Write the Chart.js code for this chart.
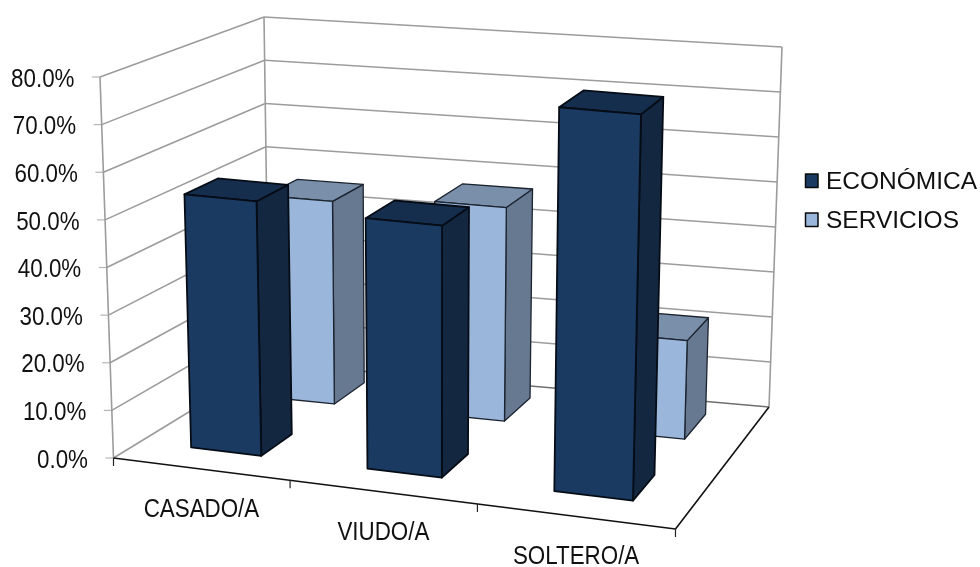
<!DOCTYPE html>
<html>
<head>
<meta charset="utf-8">
<title>Estado civil por rama</title>
<script src="https://cdn.jsdelivr.net/npm/chart.js@4/dist/chart.umd.min.js"></script>
<style>
  html, body { margin: 0; padding: 0; background: #fff; }
  canvas { display: block; }
</style>
</head>
<body>
<canvas id="estado-chart" width="980" height="567"></canvas>
<script>
// Chart data (percent)
const categories = ['CASADO/A', 'VIUDO/A', 'SOLTERO/A'];
const economica = [53.8, 52.5, 79.3];
const servicios = [45, 46.8, 21.3];

const seriesNames = ['ECONÓMICA', 'SERVICIOS'];

// Face colours per series: front, side, top
const faces = [
    { front: '#1a3a62', side: '#132741', top: '#162e4d', line: '#060c16' },
    { front: '#9ab7db', side: '#677891', top: '#7a8faa', line: '#1c2430' }
];

// Screen corners of the 3D box, named by [u, v, w] = [across, depth, height]
const box = {
    c000: [113.5, 458], c100: [675.5, 529], c010: [269, 363], c110: [769, 407],
    c001: [100, 77],    c101: [685.5, 131], c011: [264, 17],  c111: [782, 47]
};

// Depth range of each series row on the floor
const depthRows = [[0.175, 0.39], [0.69, 0.90]];

const labelFont = '26px "Liberation Sans", Arial, sans-serif';

function lerp(a, b, t) {
    return [a[0] + (b[0] - a[0]) * t, a[1] + (b[1] - a[1]) * t];
}

// Trilinear mapping from box coordinates to the canvas, with a small
// foreshortening along the category direction
function project(u, v, w) {
    const uu = u * (0.914 + 0.086 * u);
    const floor = lerp(lerp(box.c000, box.c100, uu), lerp(box.c010, box.c110, uu), v);
    const roof = lerp(lerp(box.c001, box.c101, uu), lerp(box.c011, box.c111, uu), v);
    return lerp(floor, roof, w);
}

function line(ctx, a, b, color, width) {
    ctx.strokeStyle = color;
    ctx.lineWidth = width;
    ctx.beginPath();
    ctx.moveTo(a[0], a[1]);
    ctx.lineTo(b[0], b[1]);
    ctx.stroke();
}

function face(ctx, pts, fill, stroke, width) {
    ctx.beginPath();
    pts.forEach((p, i) => i ? ctx.lineTo(p[0], p[1]) : ctx.moveTo(p[0], p[1]));
    ctx.closePath();
    ctx.fillStyle = fill;
    ctx.fill();
    ctx.lineJoin = 'round';
    ctx.strokeStyle = stroke;
    ctx.lineWidth = width;
    ctx.stroke();
}

// Axis text is condensed horizontally
function narrowText(ctx, text, x, y, align) {
    ctx.save();
    ctx.translate(x, y);
    ctx.scale(0.86, 1);
    ctx.fillStyle = '#111';
    ctx.font = labelFont;
    ctx.textAlign = align;
    ctx.textBaseline = 'middle';
    ctx.fillText(text, 0, 0);
    ctx.restore();
}

// Walls, gridlines and value labels
function drawWalls(chart) {
    const ctx = chart.ctx;
    const yScale = chart.scales.y;
    const area = chart.chartArea;
    const grid = '#9c9c9c';

    yScale.ticks.forEach(tick => {
        const w = (area.bottom - yScale.getPixelForValue(tick.value)) / area.height;
        const front = project(0, 0, w);
        const back = project(0, 1, w);
        line(ctx, front, back, grid, 1.6);
        line(ctx, back, project(1, 1, w), w === 0 ? '#6e6e6e' : grid, 1.6);
        line(ctx, [front[0] - 8, front[1]], front, '#b5b5b5', 1.2);
        narrowText(ctx, tick.label, front[0] - 25.5, front[1] + 2.5, 'right');
    });

    line(ctx, project(0, 0, 0), project(0, 0, 1), grid, 1.6);
    line(ctx, project(0, 1, 0), project(0, 1, 1), grid, 1.6);
    line(ctx, project(1, 1, 0), project(1, 1, 1), grid, 1.6);
}

// Floor edges, category ticks and labels
function drawFloor(chart) {
    const ctx = chart.ctx;
    const xScale = chart.scales.x;
    const area = chart.chartArea;

    line(ctx, project(0, 0, 0), project(1, 0, 0), '#111', 1.6);
    line(ctx, project(1, 0, 0), project(1, 1, 0), '#111', 1.6);

    for (let i = 0; i <= categories.length; i++) {
        const p = project(i / categories.length, 0, 0);
        line(ctx, p, [p[0], p[1] + 8], '#222', 1.2);
    }

    categories.forEach((label, i) => {
        const u = (xScale.getPixelForValue(i) - area.left) / area.width;
        const p = project(u, 0, 0);
        narrowText(ctx, label, p[0] + 1, p[1] + 41, 'center');
    });
}

// One column as front, side and top faces
function drawColumn(chart, bar, row) {
    const ctx = chart.ctx;
    const area = chart.chartArea;
    const u0 = (bar.x - bar.width / 2 - area.left) / area.width;
    const u1 = (bar.x + bar.width / 2 - area.left) / area.width;
    const w = (area.bottom - bar.y) / area.height;
    const [v0, v1] = depthRows[row];
    const c = faces[row];
    const lw = row === 0 ? 1.8 : 1.3;

    face(ctx, [project(u1, v0, 0), project(u1, v1, 0), project(u1, v1, w), project(u1, v0, w)], c.side, c.line, lw);
    face(ctx, [project(u0, v0, w), project(u1, v0, w), project(u1, v1, w), project(u0, v1, w)], c.top, c.line, lw);
    face(ctx, [project(u0, v0, 0), project(u1, v0, 0), project(u1, v0, w), project(u0, v0, w)], c.front, c.line, lw);
}

function drawLegend(chart) {
    const ctx = chart.ctx;
    chart.data.datasets.forEach((ds, i) => {
        const top = 174 + i * 39;
        ctx.fillStyle = ds.backgroundColor;
        ctx.strokeStyle = '#0a0a0a';
        ctx.lineWidth = 1.5;
        ctx.fillRect(805.5, top, 12.5, 13.5);
        ctx.strokeRect(805.5, top, 12.5, 13.5);

        ctx.fillStyle = '#111';
        ctx.font = '24.5px "Liberation Sans", Arial, sans-serif';
        ctx.textAlign = 'left';
        ctx.textBaseline = 'alphabetic';
        ctx.fillText(ds.label, 826, top + 15);
    });
}

// The columns replace the flat bars, so the normal dataset pass is cancelled
const box3d = {
    id: 'box3d',
    beforeDatasetsDraw(chart) {
        const ctx = chart.ctx;
        ctx.fillStyle = '#fff';
        ctx.fillRect(0, 0, chart.width, chart.height);

        drawWalls(chart);
        drawFloor(chart);

        // back row first so the front row covers it
        for (let row = chart.data.datasets.length - 1; row >= 0; row--) {
            chart.getDatasetMeta(row).data.forEach(bar => drawColumn(chart, bar, row));
        }
        drawLegend(chart);
        return false;
    }
};

new Chart(document.getElementById('estado-chart'), {
    type: 'bar',
    data: {
        labels: categories,
        datasets: [
            { label: seriesNames[0], data: economica, backgroundColor: faces[0].front },
            { label: seriesNames[1], data: servicios, backgroundColor: faces[1].front }
        ]
    },
    options: {
        responsive: false,
        animation: false,
        grouped: false,
        barPercentage: 0.405,
        categoryPercentage: 1,
        layout: { padding: 0 },
        plugins: {
            legend: { display: false },
            tooltip: { enabled: false }
        },
        scales: {
            x: { display: false },
            y: {
                display: false,
                min: 0,
                max: 80,
                ticks: {
                    stepSize: 10,
                    callback: value => value.toFixed(1) + '%'
                }
            }
        }
    },
    plugins: [box3d]
});
</script>
</body>
</html>
